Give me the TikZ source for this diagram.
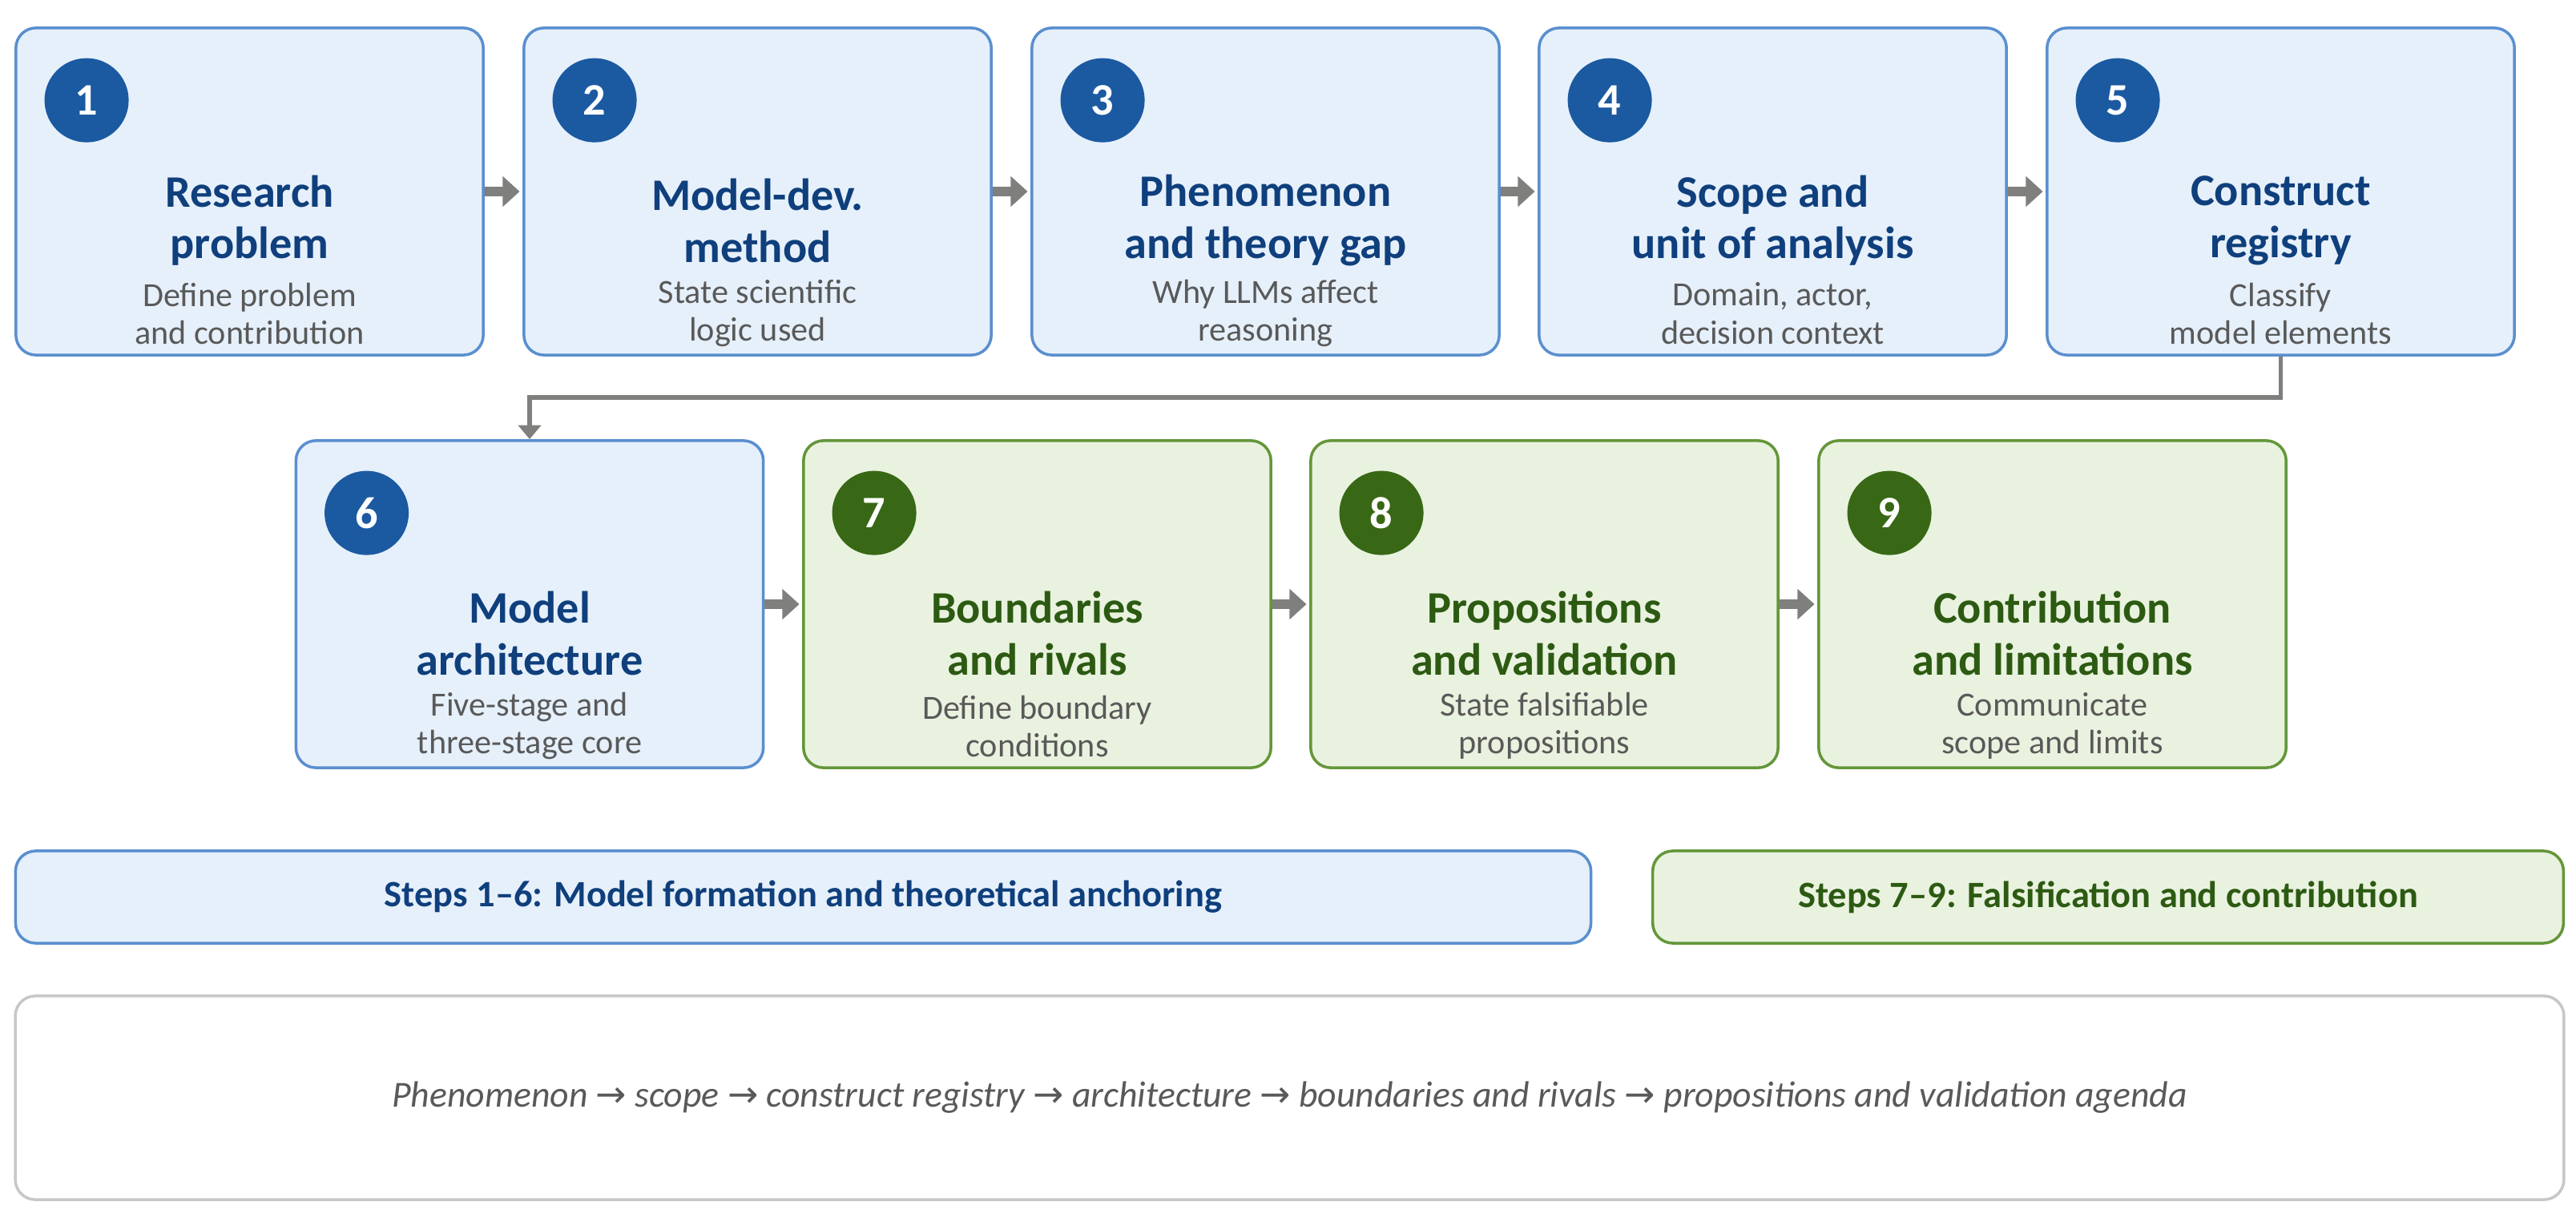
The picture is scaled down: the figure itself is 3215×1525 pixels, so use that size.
\documentclass[tikz,border=0pt]{standalone}
\usepackage{fontspec}
\setmainfont{Carlito}
\newfontfamily\arrowfont{DejaVu Sans}
\usetikzlibrary{arrows.meta}

\definecolor{blueFill}{HTML}{E6F0FB}
\definecolor{blueLine}{HTML}{5A8FCF}
\definecolor{blueTitle}{HTML}{0F3F7C}
\definecolor{blueDisk}{HTML}{1B5AA1}
\definecolor{greenFill}{HTML}{E9F2DF}
\definecolor{greenLine}{HTML}{64963A}
\definecolor{greenTitle}{HTML}{2C5A12}
\definecolor{greenDisk}{HTML}{386815}
\definecolor{subGray}{HTML}{595959}
\definecolor{flowGray}{HTML}{7F7F7D}

\begin{document}
\begin{tikzpicture}[x=0.01cm, y=-0.01cm,
    card/.style={line width=1pt, rounded corners=0.25cm,
      minimum width=5.83cm, minimum height=4.08cm},
    bluecard/.style={card, draw=blueLine, fill=blueFill},
    greencard/.style={card, draw=greenLine, fill=greenFill},
    disk/.style={circle, minimum size=1.05cm, inner sep=0pt, text=white,
      font=\bfseries\fontsize{16}{19}\selectfont},
    bluedisk/.style={disk, fill=blueDisk},
    greendisk/.style={disk, fill=greenDisk},
    title/.style={align=center, font=\bfseries\fontsize{16}{18.4}\selectfont},
    sub/.style={align=center, text=subGray, font=\fontsize{12}{13.4}\selectfont},
    band/.style={line width=1pt, rounded corners=0.25cm, minimum height=1.15cm,
      font=\bfseries\fontsize{13.2}{15}\selectfont},
    flow/.style={draw=flowGray, line width=3.4pt,
      -{Triangle[width=10.5pt, length=6pt]}, shorten >=1pt},
    turn/.style={draw=flowGray, line width=1.5pt,
      -{Triangle[width=8pt, length=5pt]}}]

  \useasboundingbox (0,0) rectangle (3215,1525);

  % first row
  \node [bluecard] (s1) at (311.5,239) {};
  \node [bluedisk] (n1) at ([shift={(90,92)}]s1.north west) {1};
  \node [title, text=blueTitle] (t1) at ([shift={(0,242)}]s1.north) {Research\\problem};
  \node [sub] (d1) at ([shift={(0,358)}]s1.north) {Define problem\\and contribution};

  \node [bluecard] (s2) at (945.5,239) {};
  \node [bluedisk] (n2) at ([shift={(90,92)}]s2.north west) {2};
  \node [title, text=blueTitle] (t2) at ([shift={(0,242)}]s2.north) {Model-dev.\\method};
  \node [sub] (d2) at ([shift={(0,358)}]s2.north) {State scientific\\logic used};

  \node [bluecard] (s3) at (1579.5,239) {};
  \node [bluedisk] (n3) at ([shift={(90,92)}]s3.north west) {3};
  \node [title, text=blueTitle] (t3) at ([shift={(0,242)}]s3.north) {Phenomenon\\and theory gap};
  \node [sub] (d3) at ([shift={(0,358)}]s3.north) {Why LLMs affect\\reasoning};

  \node [bluecard] (s4) at (2212.5,239) {};
  \node [bluedisk] (n4) at ([shift={(90,92)}]s4.north west) {4};
  \node [title, text=blueTitle] (t4) at ([shift={(0,242)}]s4.north) {Scope and\\unit of analysis};
  \node [sub] (d4) at ([shift={(0,358)}]s4.north) {Domain, actor,\\decision context};

  \node [bluecard] (s5) at (2846.5,239) {};
  \node [bluedisk] (n5) at ([shift={(90,92)}]s5.north west) {5};
  \node [title, text=blueTitle] (t5) at ([shift={(0,242)}]s5.north) {Construct\\registry};
  \node [sub] (d5) at ([shift={(0,358)}]s5.north) {Classify\\model elements};

  % second row
  \node [bluecard] (s6) at (661,754) {};
  \node [bluedisk] (n6) at ([shift={(90,92)}]s6.north west) {6};
  \node [title, text=blueTitle] (t6) at ([shift={(0,242)}]s6.north) {Model\\architecture};
  \node [sub] (d6) at ([shift={(0,358)}]s6.north) {Five-stage and\\three-stage core};

  \node [greencard] (s7) at (1294.5,754) {};
  \node [greendisk] (n7) at ([shift={(90,92)}]s7.north west) {7};
  \node [title, text=greenTitle] (t7) at ([shift={(0,242)}]s7.north) {Boundaries\\and rivals};
  \node [sub] (d7) at ([shift={(0,358)}]s7.north) {Define boundary\\conditions};

  \node [greencard] (s8) at (1927.5,754) {};
  \node [greendisk] (n8) at ([shift={(90,92)}]s8.north west) {8};
  \node [title, text=greenTitle] (t8) at ([shift={(0,242)}]s8.north) {Propositions\\and validation};
  \node [sub] (d8) at ([shift={(0,358)}]s8.north) {State falsifiable\\propositions};

  \node [greencard] (s9) at (2561.5,754) {};
  \node [greendisk] (n9) at ([shift={(90,92)}]s9.north west) {9};
  \node [title, text=greenTitle] (t9) at ([shift={(0,242)}]s9.north) {Contribution\\and limitations};
  \node [sub] (d9) at ([shift={(0,358)}]s9.north) {Communicate\\scope and limits};

  % arrows
  \draw [flow] (s1) -- (s2);
  \draw [flow] (s2) -- (s3);
  \draw [flow] (s3) -- (s4);
  \draw [flow] (s4) -- (s5);
  \draw [turn] (s5.south) -- ++(0,51) -| (s6.north);
  \draw [flow] (s6) -- (s7);
  \draw [flow] (s7) -- (s8);
  \draw [flow] (s8) -- (s9);

  % phase bands
  \node [band, draw=blueLine, fill=blueFill, text=blueTitle, minimum width=19.65cm]
    (early) at (1002.5,1119.5) {Steps 1–6: Model formation and theoretical anchoring};
  \node [band, draw=greenLine, fill=greenFill, text=greenTitle, minimum width=11.36cm]
    (late) at (2631,1119.5) {Steps 7–9: Falsification and contribution};

  % summary line
  \node [draw=black!22, fill=white, line width=1pt, rounded corners=0.25cm,
    minimum width=31.79cm, minimum height=2.54cm, text=subGray,
    font=\itshape\fontsize{13}{16}\selectfont] (chain) at (1609.5,1370)
    {Phenomenon {\arrowfont →} scope {\arrowfont →} construct registry
     {\arrowfont →} architecture {\arrowfont →} boundaries and rivals
     {\arrowfont →} propositions and validation agenda};
\end{tikzpicture}
\end{document}
